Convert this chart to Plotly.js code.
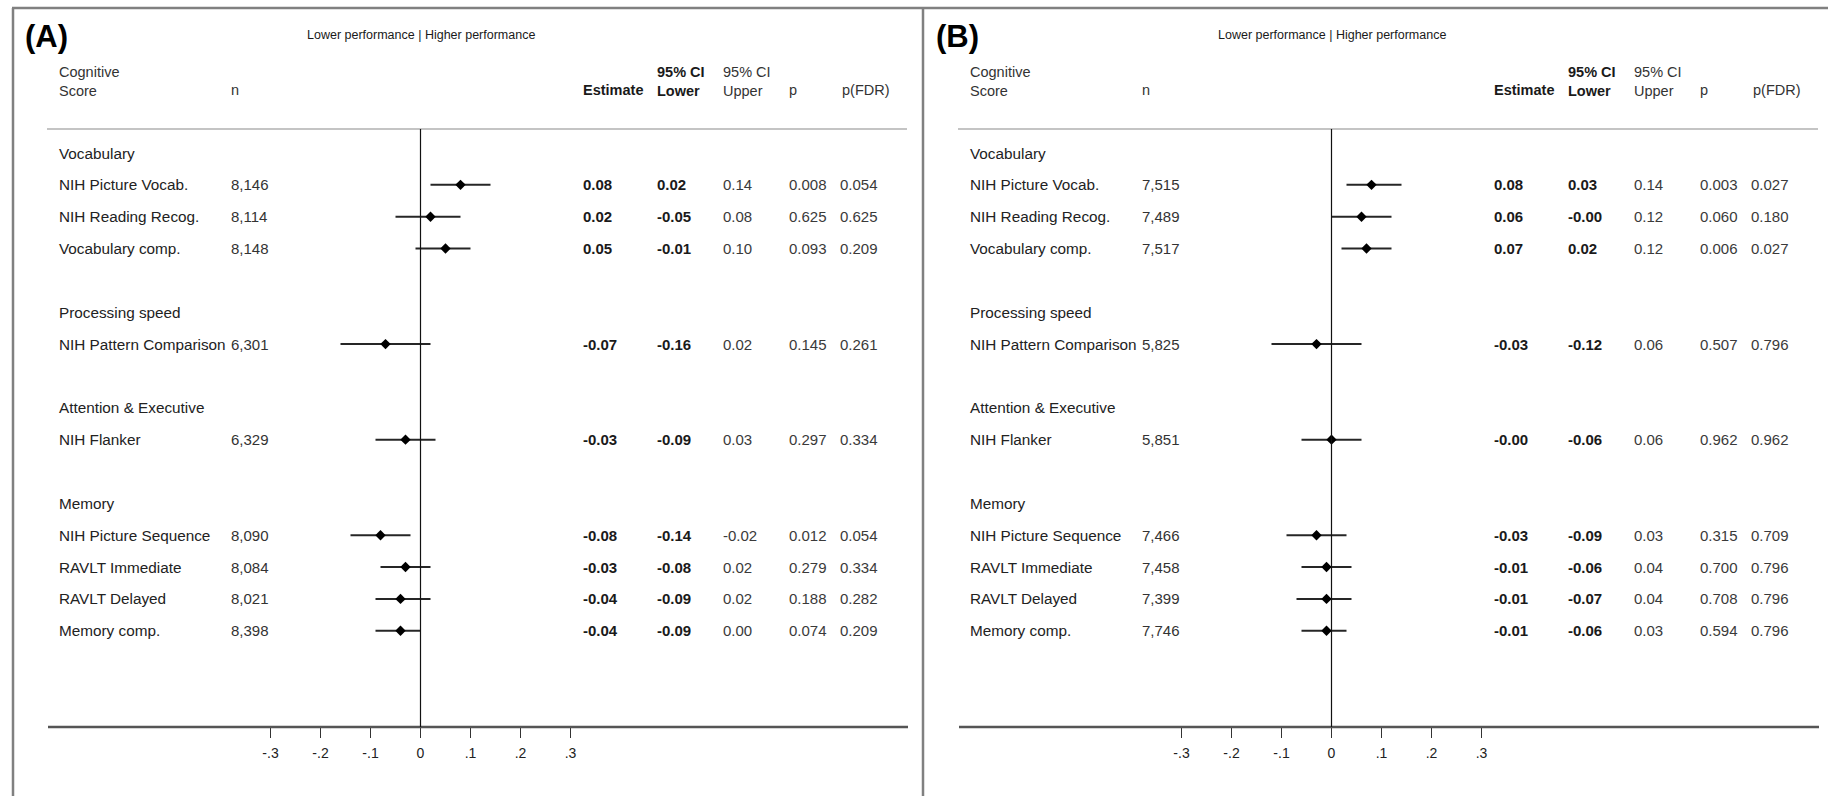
<!DOCTYPE html>
<html>
<head>
<meta charset="utf-8">
<script src="https://cdn.plot.ly/plotly-3.0.1.min.js"></script>
<style>
  html, body { margin: 0; padding: 0; background: #fff; }
  #chart { width: 1828px; height: 796px; }
</style>
</head>
<body>
<div id="chart"></div>
<script>
// ---------------- DATA ----------------
const panelLabels = ['(A)', '(B)'];
const directionLabel = 'Lower performance | Higher performance';

const groups = ['Vocabulary', 'Processing speed', 'Attention & Executive', 'Memory'];
const groupSizes = [3, 1, 1, 4];
const measures = ['NIH Picture Vocab.', 'NIH Reading Recog.', 'Vocabulary comp.',
  'NIH Pattern Comparison', 'NIH Flanker',
  'NIH Picture Sequence', 'RAVLT Immediate', 'RAVLT Delayed', 'Memory comp.'];

// Panel A
const nA    = [8146, 8114, 8148, 6301, 6329, 8090, 8084, 8021, 8398];
const estA  = [0.08, 0.02, 0.05, -0.07, -0.03, -0.08, -0.03, -0.04, -0.04];
const lowA  = [0.02, -0.05, -0.01, -0.16, -0.09, -0.14, -0.08, -0.09, -0.09];
const upA   = [0.14, 0.08, 0.10, 0.02, 0.03, -0.02, 0.02, 0.02, 0.00];
const pA    = [0.008, 0.625, 0.093, 0.145, 0.297, 0.012, 0.279, 0.188, 0.074];
const fdrA  = [0.054, 0.625, 0.209, 0.261, 0.334, 0.054, 0.334, 0.282, 0.209];

// Panel B
const nB    = [7515, 7489, 7517, 5825, 5851, 7466, 7458, 7399, 7746];
const estB  = [0.08, 0.06, 0.07, -0.03, -0.00, -0.03, -0.01, -0.01, -0.01];
const lowB  = [0.03, -0.00, 0.02, -0.12, -0.06, -0.09, -0.06, -0.07, -0.06];
const upB   = [0.14, 0.12, 0.12, 0.06, 0.06, 0.03, 0.04, 0.04, 0.03];
const pB    = [0.003, 0.060, 0.006, 0.507, 0.962, 0.315, 0.700, 0.708, 0.594];
const fdrB  = [0.027, 0.180, 0.027, 0.796, 0.962, 0.709, 0.796, 0.796, 0.796];

const tickValues = [-0.3, -0.2, -0.1, 0, 0.1, 0.2, 0.3];
const tickLabels = ['-.3', '-.2', '-.1', '0', '.1', '.2', '.3'];

const headerCols = [
  ['Cognitive', 'Score'], ['', 'n'], ['', 'Estimate'], ['95% CI', 'Lower'],
  ['95% CI', 'Upper'], ['', 'p'], ['', 'p(FDR)']
];

// ---------------- LAYOUT CONSTANTS ----------------
const W = 1828, H = 796;
const FONT = 'Liberation Sans, Arial, Helvetica, sans-serif';
const ROW0 = 153, ROWSTEP = 31.85;      // pixel y of first row and spacing
const PXPERUNIT = 500;                   // x scale
const panelOffset = [0, 911];
const zeroX = 420.5;                     // pixel x of 0 in panel A
const colX = {label: 58, n: 230, est: 582, low: 656, up: 722, p: 788, fdr: 839};
const hdrX = [58, 230, 582, 656, 722, 788, 841];
const AXIS_Y = 727, SEP_Y = 129, TOP_Y = 8;
const LABEL_SIZE = 15.3, VALUE_SIZE = 15, HDR_SIZE = 14.5;

const px = v => v / W;
const py = v => 1 - v / H;

// rows from group structure
const headerRows = [];
const measureRows = [];
{
  let r = 0;
  groups.forEach((g, gi) => {
    headerRows.push(r); r++;
    for (let k = 0; k < groupSizes[gi]; k++) { measureRows.push(r); r++; }
    r++; // blank spacer
  });
}

const fmt2 = v => ((v < 0 || Object.is(v, -0)) ? '-' : '') + Math.abs(v).toFixed(2);
const fmt3 = v => v.toFixed(3);
const fmtN = v => v.toLocaleString('en-US');

const panels = [
  {n: nA, est: estA, low: lowA, up: upA, p: pA, fdr: fdrA, xa: 'x'},
  {n: nB, est: estB, low: lowB, up: upB, p: pB, fdr: fdrB, xa: 'x2'}
];

const traces = [];
const annotations = [];
const shapes = [];

const lineStyle = (color, width) => ({color, width});

function textAnn(text, xPix, y, yref, size, color, bold, anchor) {
  return {
    text: bold ? '<b>' + text + '</b>' : text,
    x: px(xPix), xref: 'paper', y: y, yref: yref,
    xanchor: anchor || 'left', yanchor: 'middle', align: 'left', showarrow: false,
    borderpad: 0,
    font: {family: FONT, size: size, color: color}
  };
}

panels.forEach((P, pi) => {
  const off = panelOffset[pi];
  const xref = P.xa;

  traces.push({
    type: 'scatter', mode: 'markers',
    x: P.est, y: measureRows, xaxis: P.xa, yaxis: 'y',
    marker: {symbol: 'diamond', size: 8, color: '#000'},
    error_x: {
      type: 'data', symmetric: false,
      array: P.est.map((e, i) => P.up[i] - e),
      arrayminus: P.est.map((e, i) => e - P.low[i]),
      width: 0, thickness: 2, color: '#262626'
    },
    hoverinfo: 'skip', cliponaxis: false, showlegend: false
  });

  // panel label and direction label
  annotations.push(textAnn(panelLabels[pi], 24 + off, py(37), 'paper', 31, '#000', true));
  annotations.push({
    text: directionLabel, x: 0, xref: xref, y: py(35), yref: 'paper',
    xanchor: 'center', yanchor: 'middle', showarrow: false, borderpad: 0,
    font: {family: FONT, size: 12.5, color: '#1a1a1a'}
  });

  // column headers (two-line headers as one text block)
  headerCols.forEach((h, ci) => {
    const bold = (ci === 2 || ci === 3);
    const color = bold ? '#1a1a1a' : '#333';
    if (h[0]) {
      const t = bold ? '<b>' + h[0] + '</b><br><b>' + h[1] + '</b>' : h[0] + '<br>' + h[1];
      annotations.push(textAnn(t, hdrX[ci] + off, py(81.5), 'paper', HDR_SIZE, color, false));
    } else {
      annotations.push(textAnn(h[1], hdrX[ci] + off, py(90), 'paper', HDR_SIZE, color, bold));
    }
  });

  // group headers
  groups.forEach((g, gi) => {
    annotations.push(textAnn(g, colX.label + off, headerRows[gi], 'y', LABEL_SIZE, '#222', false));
  });

  // measure rows
  measures.forEach((m, i) => {
    const r = measureRows[i];
    annotations.push(textAnn(m, colX.label + off, r, 'y', LABEL_SIZE, '#222', false));
    annotations.push(textAnn(fmtN(P.n[i]), colX.n + off, r, 'y', VALUE_SIZE, '#333', false));
    annotations.push(textAnn(fmt2(P.est[i]), colX.est + off, r, 'y', VALUE_SIZE, '#1a1a1a', true));
    annotations.push(textAnn(fmt2(P.low[i]), colX.low + off, r, 'y', VALUE_SIZE, '#1a1a1a', true));
    annotations.push(textAnn(fmt2(P.up[i]), colX.up + off, r, 'y', VALUE_SIZE, '#3a3a3a', false));
    annotations.push(textAnn(fmt3(P.p[i]), colX.p + off, r, 'y', VALUE_SIZE, '#3a3a3a', false));
    annotations.push(textAnn(fmt3(P.fdr[i]), colX.fdr + off, r, 'y', VALUE_SIZE, '#3a3a3a', false));
  });

  // separator under headers
  shapes.push({type: 'line', xref: 'paper', yref: 'paper',
    x0: px(47 + off), x1: px(907 + off), y0: py(SEP_Y), y1: py(SEP_Y),
    line: lineStyle('#c4c4c4', 2)});
  // axis baseline
  shapes.push({type: 'line', xref: 'paper', yref: 'paper',
    x0: px(48 + off), x1: px(908 + off), y0: py(AXIS_Y), y1: py(AXIS_Y),
    line: lineStyle('#555', 2.5)});
  // zero reference line
  shapes.push({type: 'line', xref: xref, yref: 'paper',
    x0: 0, x1: 0, y0: py(SEP_Y), y1: py(AXIS_Y),
    line: lineStyle('#111', 1.2)});
});

// frame
shapes.push({type: 'line', xref: 'paper', yref: 'paper', x0: px(12), x1: 1, y0: py(TOP_Y), y1: py(TOP_Y), line: lineStyle('#808080', 2.5)});
shapes.push({type: 'line', xref: 'paper', yref: 'paper', x0: px(13), x1: px(13), y0: py(TOP_Y), y1: 0, line: lineStyle('#808080', 2.5)});
shapes.push({type: 'line', xref: 'paper', yref: 'paper', x0: px(923), x1: px(923), y0: py(TOP_Y), y1: 0, line: lineStyle('#808080', 2.5)});

function xAxis(zeroPix) {
  return {
    domain: [0, 1],
    range: [-zeroPix / PXPERUNIT, (W - zeroPix) / PXPERUNIT],
    anchor: 'free', position: py(AXIS_Y),
    showgrid: false, zeroline: false, showline: false,
    ticks: 'outside', ticklen: 10, tickwidth: 1.6, tickcolor: '#333',
    tickvals: tickValues, ticktext: tickLabels,
    tickfont: {family: FONT, size: 14, color: '#222'},
    ticklabelstandoff: 3,
    fixedrange: true
  };
}

const layout = {
  width: W, height: H,
  margin: {l: 0, r: 0, t: 0, b: 0, pad: 0},
  paper_bgcolor: '#fff', plot_bgcolor: 'rgba(0,0,0,0)',
  showlegend: false,
  xaxis: xAxis(zeroX),
  xaxis2: Object.assign(xAxis(zeroX + panelOffset[1]), {overlaying: 'x'}),
  yaxis: {
    domain: [0, 1],
    range: [(H - ROW0) / ROWSTEP, -ROW0 / ROWSTEP],
    visible: false, fixedrange: true
  },
  annotations: annotations,
  shapes: shapes
};

Plotly.newPlot('chart', traces, layout, {staticPlot: true, displayModeBar: false});
</script>
</body>
</html>
